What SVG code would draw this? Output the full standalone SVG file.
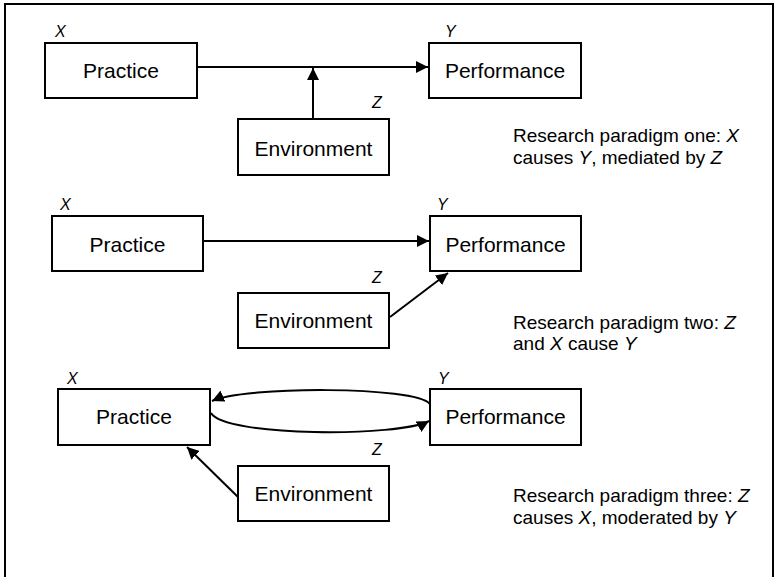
<svg xmlns="http://www.w3.org/2000/svg" width="776" height="577" viewBox="0 0 776 577">
<style>
.box{fill:#fff;stroke:#000;stroke-width:2}
.lbl{font-family:"Liberation Sans",Arial,sans-serif;font-size:21px;text-anchor:middle;fill:#000}
.var{font-family:"Liberation Sans",Arial,sans-serif;font-size:16px;font-style:italic;fill:#000}
.cap{font-family:"Liberation Sans",Arial,sans-serif;font-size:19px;fill:#000}
.it{font-style:italic}
.con{fill:none;stroke:#000;stroke-width:2;marker-end:url(#arr)}
</style>
<defs>
<marker id="arr" markerUnits="userSpaceOnUse" markerWidth="13" markerHeight="12" refX="12" refY="6" orient="auto">
<path d="M0,0 L12,6 L0,12 z" fill="#000"/>
</marker>
</defs>
<rect x="5" y="4" width="768" height="620" fill="#fff" stroke="#000" stroke-width="2"/>

<g id="connectors">
<path class="con" d="M197,67 L428,67"/>
<path class="con" d="M313,118 L313,68"/>
<path class="con" d="M203,241 L429,241"/>
<path class="con" d="M390,317 L448,273"/>
<path class="con" d="M430,404 C415,386 245,386 212,401"/>
<path class="con" d="M211,413 C225,437 400,437 429,421"/>
<path class="con" d="M238,497 L187,447"/>
</g>

<g id="practice1"><rect class="box" x="45" y="43" width="152" height="55"/><text class="lbl" x="121" y="78">Practice</text><text class="var" x="55" y="37">X</text></g>
<g id="performance1"><rect class="box" x="429" y="43" width="152" height="55"/><text class="lbl" x="505" y="78">Performance</text><text class="var" x="445" y="37">Y</text></g>
<g id="environment1"><rect class="box" x="238" y="119" width="151" height="56"/><text class="lbl" x="313.5" y="155.5">Environment</text><text class="var" x="372" y="108">Z</text></g>

<g id="practice2"><rect class="box" x="52" y="216" width="151" height="55"/><text class="lbl" x="127.5" y="251.5">Practice</text><text class="var" x="60" y="210">X</text></g>
<g id="performance2"><rect class="box" x="430" y="216" width="151" height="55"/><text class="lbl" x="505.5" y="251.5">Performance</text><text class="var" x="437" y="210">Y</text></g>
<g id="environment2"><rect class="box" x="238" y="293" width="151" height="55"/><text class="lbl" x="313.5" y="328">Environment</text><text class="var" x="372" y="283">Z</text></g>

<g id="practice3"><rect class="box" x="58" y="389" width="152" height="56"/><text class="lbl" x="134" y="424">Practice</text><text class="var" x="67" y="384">X</text></g>
<g id="performance3"><rect class="box" x="430" y="389" width="151" height="56"/><text class="lbl" x="505.5" y="424">Performance</text><text class="var" x="438" y="384">Y</text></g>
<g id="environment3"><rect class="box" x="238" y="466" width="151" height="55"/><text class="lbl" x="313.5" y="501">Environment</text><text class="var" x="372" y="455">Z</text></g>

<g id="captions">
<text class="cap" x="513" y="142">Research paradigm one: <tspan class="it">X</tspan></text>
<text class="cap" x="513" y="163.5">causes <tspan class="it">Y</tspan>, mediated by <tspan class="it">Z</tspan></text>
<text class="cap" x="513" y="328.5">Research paradigm two: <tspan class="it">Z</tspan></text>
<text class="cap" x="513" y="349.5">and <tspan class="it">X</tspan> cause <tspan class="it">Y</tspan></text>
<text class="cap" x="513" y="502">Research paradigm three: <tspan class="it">Z</tspan></text>
<text class="cap" x="513" y="523.5">causes <tspan class="it">X</tspan>, moderated by <tspan class="it">Y</tspan></text>
</g>
</svg>
